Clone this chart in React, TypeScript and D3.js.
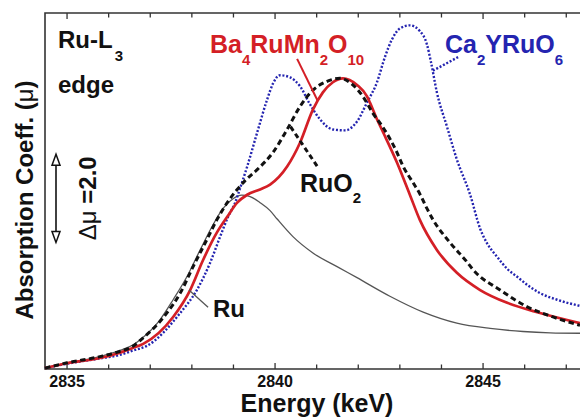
import React from "react";
import * as d3 from "d3";

// Ru L3-edge XANES spectra: [energy (keV), absorption coefficient μ]
const RU: [number, number][] = [
  [2834.47, 0.0], [2835.0, 0.12], [2835.79, 0.26], [2836.27, 0.4], [2836.59, 0.53],
  [2836.75, 0.64], [2837.23, 1.09], [2837.55, 1.55], [2837.88, 2.07], [2838.2, 2.68],
  [2838.48, 3.2], [2838.75, 3.62], [2838.99, 3.84], [2839.2, 3.92], [2839.4, 3.89],
  [2839.64, 3.75], [2839.88, 3.57], [2840.05, 3.38], [2840.43, 2.98], [2840.91, 2.61],
  [2841.49, 2.3], [2841.97, 2.05], [2842.76, 1.63], [2843.56, 1.27], [2844.37, 1.02],
  [2845.17, 0.9], [2845.96, 0.83], [2846.61, 0.8], [2847.33, 0.79],
];

const RUO2: [number, number][] = [
  [2834.47, 0.0], [2835.0, 0.12], [2835.79, 0.26], [2836.27, 0.38], [2836.59, 0.5],
  [2836.75, 0.62], [2837.4, 1.25], [2837.72, 1.7], [2838.03, 2.3], [2838.36, 2.91],
  [2838.6, 3.36], [2838.85, 3.75], [2839.09, 4.05], [2839.3, 4.27], [2839.57, 4.5],
  [2839.95, 4.89], [2840.29, 5.41], [2840.6, 5.93], [2840.91, 6.3], [2841.25, 6.5],
  [2841.56, 6.57], [2841.87, 6.42], [2842.11, 6.16], [2842.35, 5.78], [2842.6, 5.45],
  [2842.93, 4.89], [2843.08, 4.57], [2843.32, 4.2], [2843.48, 3.95], [2843.65, 3.62],
  [2843.8, 3.36], [2844.21, 2.84], [2844.61, 2.41], [2844.76, 2.23], [2845.41, 1.77],
  [2846.06, 1.39], [2846.68, 1.16], [2847.33, 0.97],
];

const BA4RUMN2O10: [number, number][] = [
  [2834.47, 0.0], [2835.0, 0.11], [2835.79, 0.23], [2836.27, 0.35], [2836.59, 0.46],
  [2836.83, 0.55], [2837.55, 1.16], [2837.96, 1.77], [2838.27, 2.45], [2838.6, 3.07],
  [2838.85, 3.43], [2839.09, 3.75], [2839.33, 3.93], [2839.64, 4.05], [2839.88, 4.16],
  [2840.29, 4.57], [2840.6, 5.11], [2840.91, 5.86], [2841.15, 6.25], [2841.39, 6.48],
  [2841.63, 6.57], [2841.97, 6.42], [2842.21, 6.16], [2842.28, 6.02], [2842.45, 5.64],
  [2842.6, 5.34], [2842.93, 4.66], [2843.24, 3.93], [2843.48, 3.36], [2843.89, 2.68],
  [2844.37, 2.16], [2844.93, 1.77], [2845.58, 1.48], [2846.37, 1.25], [2847.33, 1.02],
];

const CA2YRUO6: [number, number][] = [
  [2834.47, 0.0], [2835.0, 0.1], [2835.79, 0.22], [2836.27, 0.3], [2836.59, 0.4],
  [2836.91, 0.5], [2837.72, 1.25], [2838.12, 1.77], [2838.44, 2.39], [2838.68, 2.98],
  [2838.87, 3.43], [2839.04, 3.75], [2839.16, 4.08], [2839.33, 4.57], [2839.57, 5.34],
  [2839.81, 6.09], [2839.95, 6.45], [2840.12, 6.64], [2840.36, 6.59], [2840.6, 6.39],
  [2840.84, 5.98], [2841.08, 5.64], [2841.39, 5.41], [2841.68, 5.39], [2841.97, 5.59],
  [2842.21, 6.02], [2842.45, 6.48], [2842.64, 7.05], [2842.81, 7.45], [2843.0, 7.7],
  [2843.24, 7.77], [2843.48, 7.64], [2843.65, 7.34], [2843.75, 6.93], [2843.89, 6.25],
  [2844.13, 5.48], [2844.37, 4.73], [2844.69, 3.93], [2844.93, 3.16], [2845.09, 2.84],
  [2845.34, 2.52], [2845.58, 2.25], [2845.82, 2.07], [2846.13, 1.84], [2846.37, 1.7],
  [2846.78, 1.55], [2847.33, 1.41],
];

const X_TICKS = [2835, 2836, 2837, 2838, 2839, 2840, 2841, 2842, 2843, 2844, 2845, 2846, 2847];
const X_LABELS = [2835, 2840, 2845];

// Scale bar: Δμ = 2.0, starting from this μ value
const SCALE_BAR_START = 2.85;
const SCALE_BAR_SIZE = 2.0;

const W = 580;
const H = 417;
const LEFT = 45;
const RIGHT = 580;
const TOP = 13;
const BOTTOM = 369;
const FONT = "'Liberation Sans', Arial, Helvetica, sans-serif";

const RED = "#d41f26";
const BLUE = "#2424b0";
const BLACK = "#111";
const GREY = "#555";

export default function App() {
  const x = d3.scaleLinear().domain([2834.47, 2847.33]).range([LEFT, RIGHT]);
  const y = d3.scaleLinear().domain([-0.02, 8.05]).range([BOTTOM, TOP]);
  const line = d3
    .line<[number, number]>()
    .x((d) => x(d[0]))
    .y((d) => y(d[1]))
    .curve(d3.curveMonotoneX);

  const seg = (a: [number, number], b: [number, number]) =>
    `M${x(a[0])},${y(a[1])}L${x(b[0])},${y(b[1])}`;

  const barX = 56;
  const barTop = y(SCALE_BAR_START + SCALE_BAR_SIZE);
  const barBot = y(SCALE_BAR_START);

  return (
    <svg
      width={W}
      height={H}
      style={{ position: "absolute", left: 0, top: 0, background: "#fff" }}
      fontFamily={FONT}
    >
      <rect width={W} height={H} fill="#fff" />

      {/* frame */}
      <path
        d={`M${RIGHT},${TOP}H${LEFT}V${BOTTOM}H${RIGHT}`}
        fill="none"
        stroke="#333"
        strokeWidth={1.6}
      />
      {X_TICKS.map((t) => {
        const major = X_LABELS.includes(t);
        const len = major ? 6 : 4.5;
        return (
          <g key={t}>
            <line x1={x(t)} x2={x(t)} y1={BOTTOM} y2={BOTTOM - len} stroke="#333" strokeWidth={1.3} />
            <line x1={x(t)} x2={x(t)} y1={TOP} y2={TOP + len} stroke="#333" strokeWidth={1.3} />
          </g>
        );
      })}
      {X_LABELS.map((t) => (
        <text key={t} x={x(t)} y={387} textAnchor="middle" fontSize={16} fontWeight="bold" fill="#111">
          {t}
        </text>
      ))}
      <text x={317} y={412} textAnchor="middle" fontSize={25} fontWeight="bold" fill="#111">
        Energy (keV)
      </text>
      <text
        transform="translate(33,200) rotate(-90)"
        textAnchor="middle"
        fontSize={24}
        fontWeight="bold"
        fill="#111"
      >
        Absorption Coeff. (<tspan fontWeight="normal">μ</tspan>)
      </text>

      {/* spectra */}
      <path d={line(RU) ?? ""} fill="none" stroke={GREY} strokeWidth={1.3} />
      <path d={line(CA2YRUO6) ?? ""} fill="none" stroke={BLUE} strokeWidth={2.4} strokeDasharray="2,1.8" />
      <path d={line(BA4RUMN2O10) ?? ""} fill="none" stroke={RED} strokeWidth={2.7} />
      <path d={line(RUO2) ?? ""} fill="none" stroke={BLACK} strokeWidth={3} strokeDasharray="5.5,3.5" />

      {/* leader lines */}
      <path d={seg([2840.53, 7.01], [2841.03, 6.05])} stroke={RED} strokeWidth={2} fill="none" />
      <path d={seg([2841.01, 4.58], [2840.36, 5.49])} stroke={BLACK} strokeWidth={3} strokeDasharray="5,3.5" fill="none" />
      <path d={seg([2844.4, 7.05], [2843.77, 6.73])} stroke={BLUE} strokeWidth={2.4} strokeDasharray="2,1.8" fill="none" />
      <path d={seg([2838.39, 1.38], [2837.93, 1.77])} stroke={GREY} strokeWidth={1.3} fill="none" />

      {/* labels */}
      <text x={58} y={48} fontSize={24} fontWeight="bold" fill="#111">
        Ru-L<tspan fontSize={15} dx={2} dy={13}>3</tspan>
      </text>
      <text x={58} y={93} fontSize={24} fontWeight="bold" fill="#111">
        edge
      </text>
      <text x={210} y={53} fontSize={25} fontWeight="bold" fill={RED}>
        Ba<tspan fontSize={15} dy={12}>4</tspan>
        <tspan dy={-12}>RuMn</tspan>
        <tspan fontSize={15} dy={12}>2</tspan>
        <tspan dy={-12}>O</tspan>
        <tspan fontSize={15} dy={12}>10</tspan>
      </text>
      <text x={300} y={192} fontSize={25} fontWeight="bold" fill="#111">
        RuO<tspan fontSize={15} dy={11}>2</tspan>
      </text>
      <text x={445} y={53} fontSize={25} fontWeight="bold" fill={BLUE}>
        Ca<tspan fontSize={15} dy={12}>2</tspan>
        <tspan dy={-12}>YRuO</tspan>
        <tspan fontSize={15} dy={12}>6</tspan>
      </text>
      <text x={213} y={317} fontSize={24} fontWeight="bold" fill="#111">
        Ru
      </text>

      {/* Δμ scale bar */}
      <line x1={barX} x2={barX} y1={barTop + 4} y2={barBot - 4} stroke="#111" strokeWidth={1.6} />
      <path
        d={`M${barX},${barTop}L${barX - 4},${barTop + 11}L${barX + 4},${barTop + 11}Z`}
        fill="#fff"
        stroke="#111"
        strokeWidth={1.5}
      />
      <path
        d={`M${barX},${barBot}L${barX - 4},${barBot - 11}L${barX + 4},${barBot - 11}Z`}
        fill="#fff"
        stroke="#111"
        strokeWidth={1.5}
      />
      <text
        transform={`translate(96,${(barTop + barBot) / 2}) rotate(-90)`}
        textAnchor="middle"
        fontSize={24}
        fill="#111"
      >
        Δμ <tspan fontWeight="bold">=2.0</tspan>
      </text>
    </svg>
  );
}
